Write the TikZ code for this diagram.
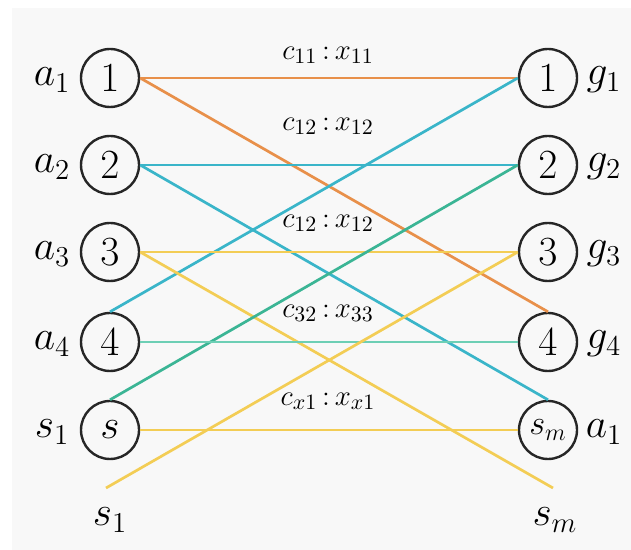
\documentclass[tikz,border=0pt]{standalone}
\usepackage{xcolor}
\definecolor{panel}{HTML}{F8F8F8}
\definecolor{eorange}{HTML}{E8904A}
\definecolor{eblue}{HTML}{3AB5C9}
\definecolor{eyellow}{HTML}{F3CD55}
\definecolor{eteal}{HTML}{3BB595}
\definecolor{egreen}{HTML}{6DCFB5}
\begin{document}
\begin{tikzpicture}[x=0.5pt,y=-0.5pt,
  vert/.style={circle,draw=black!85,line width=1.2pt,fill=panel,minimum size=29pt,inner sep=0pt,font=\fontsize{21}{23}\selectfont},
  side/.style={font=\fontsize{19.5}{21}\selectfont,inner sep=0pt},
  elab/.style={font=\fontsize{15}{17}\selectfont,inner sep=0pt},
  edge/.style={line width=1.35pt}]
\useasboundingbox (0,0) rectangle (631,550);
\fill[white] (0,0) rectangle (631,550);
\fill[panel] (12,8) rectangle (631,550);
% free ends
\coordinate (S1e) at (106,488);
\coordinate (Sme) at (553,488);
% vertices
\node[vert] (L1) at (110,78) {$1$};
\node[vert] (L2) at (110,165) {$2$};
\node[vert] (L3) at (110,252) {$3$};
\node[vert] (L4) at (110,342) {$4$};
\node[vert] (Ls) at (110,430) {$s$};
\node[vert] (R1) at (548,78) {$1$};
\node[vert] (R2) at (548,165) {$2$};
\node[vert] (R3) at (548,252) {$3$};
\node[vert] (R4) at (548,342) {$4$};
\node[vert,font=\fontsize{17}{19}\selectfont] (Rs) at (548,430) {$s_m$};
% edges
\draw[edge,eorange] (L1.east) -- (R1.west);
\draw[edge,eorange] (L1.east) -- (R4.north);
\draw[edge,eblue] (L2.east) -- (R2.west);
\draw[edge,eblue] (L2.east) -- (Rs.north);
\draw[edge,eblue] (L4.north) -- (R1.west);
\draw[edge,eyellow] (L3.east) -- (R3.west);
\draw[edge,eyellow] (L3.east) -- (Sme);
\draw[edge,eteal] (Ls.north) -- (R2.west);
\draw[edge,egreen] (L4.east) -- (R4.west);
\draw[edge,eyellow] (Ls.east) -- (Rs.west);
\draw[edge,eyellow] (S1e) -- (R3.west);
% side labels
\node[side] (la1) at (52,80) {$a_1$};
\node[side] (la2) at (52,167) {$a_2$};
\node[side] (la3) at (52,254) {$a_3$};
\node[side] (la4) at (52,344) {$a_4$};
\node[side] (ls1) at (52,432) {$s_1$};
\node[side] (lg1) at (604,80) {$g_1$};
\node[side] (lg2) at (604,167) {$g_2$};
\node[side] (lg3) at (604,254) {$g_3$};
\node[side] (lg4) at (604,344) {$g_4$};
\node[side] (lam) at (604,432) {$a_1$};
\node[side] (bs1) at (110,520) {$s_1$};
\node[side] (bsm) at (555,520) {$s_m$};
% edge labels
\node[elab] (e1) at (328,55) {$c_{11}\,{:}\,x_{11}$};
\node[elab] (e2) at (328,126) {$c_{12}\,{:}\,x_{12}$};
\node[elab] (e3) at (328,223) {$c_{12}\,{:}\,x_{12}$};
\node[elab] (e4) at (328,313) {$c_{32}\,{:}\,x_{33}$};
\node[elab] (e5) at (328,401) {$c_{x1}\,{:}\,x_{x1}$};
\end{tikzpicture}
\end{document}
